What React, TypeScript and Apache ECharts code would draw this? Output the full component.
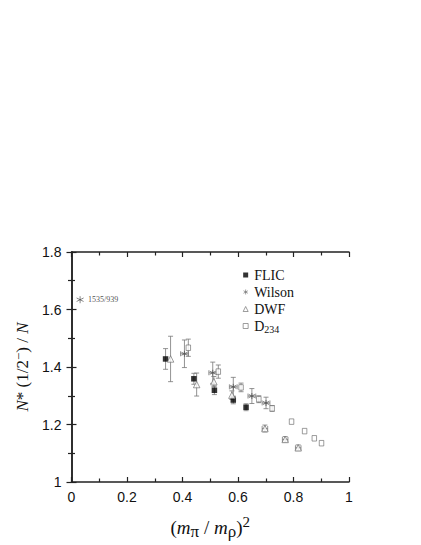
import React, { useEffect, useRef } from "react";
import * as echarts from "echarts";

const flicX = [0.339, 0.441, 0.515, 0.583, 0.629];
const flicY = [1.428, 1.359, 1.319, 1.285, 1.26];
const flicErr = [0.036, 0.019, 0.015, 0.013, 0.012];

const wilsonX = [0.407, 0.509, 0.583, 0.65, 0.701];
const wilsonY = [1.446, 1.38, 1.331, 1.299, 1.275];
const wilsonErr = [0.048, 0.037, 0.033, 0.026, 0.02];
const wilsonXErr = [0.014, 0.014, 0.014, 0.014, 0.014];

const dwfX = [0.357, 0.451, 0.513, 0.578, 0.697, 0.77, 0.817];
const dwfY = [1.428, 1.339, 1.349, 1.302, 1.186, 1.148, 1.119];
const dwfErr = [0.079, 0.04, 0.018, 0.015, 0.012, 0.01, 0.01];
const dwfXErr = [0, 0, 0, 0, 0.01, 0.01, 0.01];

const d234X = [0.421, 0.529, 0.611, 0.675, 0.723, 0.793, 0.84, 0.875, 0.901];
const d234Y = [1.467, 1.384, 1.329, 1.288, 1.256, 1.21, 1.177, 1.152, 1.135];
const d234Err = [0.03, 0.023, 0.015, 0.012, 0.01, 0, 0, 0, 0];

const annotation = [[0.031, 1.634]];
const annotationLabel = "1535/939";

const xTicks = { min: 0, max: 1, interval: 0.2 };
const yTicks = { min: 1, max: 1.8, interval: 0.2 };

const ASTERISK =
  "path://M0,-10L0,10M-8.66,-5L8.66,5M-8.66,5L8.66,-5";

function pts(xs: number[], ys: number[]) {
  return xs.map((x, i) => [x, ys[i]]);
}
function errs(xs: number[], ys: number[], ey: number[], ex?: number[]) {
  return xs.map((x, i) => [x, ys[i], ey[i], ex ? ex[i] : 0]);
}

const errRender = (color: string) => (params: any, api: any) => {
  const x = api.value(0);
  const y = api.value(1);
  const ey = api.value(2);
  const ex = api.value(3);
  const style = { stroke: color, lineWidth: 0.8 };
  const children: any[] = [];
  const cap = 2.5;
  if (ey > 0) {
    const t = api.coord([x, y + ey]);
    const b = api.coord([x, y - ey]);
    children.push({ type: "line", shape: { x1: t[0], y1: t[1], x2: b[0], y2: b[1] }, style });
    children.push({ type: "line", shape: { x1: t[0] - cap, y1: t[1], x2: t[0] + cap, y2: t[1] }, style });
    children.push({ type: "line", shape: { x1: b[0] - cap, y1: b[1], x2: b[0] + cap, y2: b[1] }, style });
  }
  if (ex > 0) {
    const l = api.coord([x - ex, y]);
    const r = api.coord([x + ex, y]);
    children.push({ type: "line", shape: { x1: l[0], y1: l[1], x2: r[0], y2: r[1] }, style });
    children.push({ type: "line", shape: { x1: l[0], y1: l[1] - cap, x2: l[0], y2: l[1] + cap }, style });
    children.push({ type: "line", shape: { x1: r[0], y1: r[1] - cap, x2: r[0], y2: r[1] + cap }, style });
  }
  return { type: "group", children };
};

export default function App() {
  const ref = useRef<HTMLDivElement>(null);
  useEffect(() => {
    if (!ref.current) return;
    const chart = echarts.init(ref.current, null, { renderer: "svg" });
    const axisLine = { show: true, lineStyle: { color: "#222", width: 1.5 } };
    const tickCommon = { show: true, inside: true, length: 5, lineStyle: { color: "#222", width: 1.2 } };
    const minorCommon = { show: true, splitNumber: 2, length: 3.5, lineStyle: { color: "#222", width: 1.2 } };
    const labelFont = { fontFamily: "Liberation Sans", fontSize: 14, color: "#111" };
    const errColor = "#777";
    chart.setOption({
      animation: false,
      backgroundColor: "#fff",
      grid: { left: 71.5, right: 72, top: 252, bottom: 63 },
      xAxis: [
        {
          type: "value",
          ...xTicks,
          position: "bottom",
          axisLine,
          axisTick: tickCommon,
          minorTick: minorCommon,
          splitLine: { show: false },
          axisLabel: { ...labelFont, margin: 8 },
          name: "({i|m}{sub|π} / {i|m}{sub|ρ}){sup|2}",
          nameLocation: "middle",
          nameGap: 32,
          nameTextStyle: {
            fontFamily: "Liberation Serif",
            fontSize: 19,
            color: "#111",
            rich: {
              i: { fontFamily: "Liberation Serif", fontStyle: "italic", fontSize: 19, color: "#111" },
              sub: { fontFamily: "Liberation Serif", fontSize: 17, color: "#111", verticalAlign: "bottom", padding: [9, 0, 0, 0] },
              sup: { fontFamily: "Liberation Serif", fontSize: 15, color: "#111", verticalAlign: "top", padding: [0, 0, 11, 0] },
            },
          },
        },
        {
          type: "value",
          ...xTicks,
          position: "top",
          axisLine,
          axisTick: tickCommon,
          minorTick: minorCommon,
          splitLine: { show: false },
          axisLabel: { show: false },
        },
      ],
      yAxis: [
        {
          type: "value",
          ...yTicks,
          position: "left",
          axisLine,
          axisTick: tickCommon,
          minorTick: minorCommon,
          splitLine: { show: false },
          axisLabel: { ...labelFont, margin: 10 },
          name: "{i|N}* (1/2{sup|−}) / {i|N}",
          nameLocation: "middle",
          nameGap: 31,
          nameTextStyle: {
            fontFamily: "Liberation Serif",
            fontSize: 17,
            color: "#111",
            rich: {
              i: { fontFamily: "Liberation Serif", fontStyle: "italic", fontSize: 17, color: "#111" },
              sup: { fontFamily: "Liberation Serif", fontSize: 13, color: "#111", verticalAlign: "top", padding: [0, 0, 8, 0] },
            },
          },
        },
        {
          type: "value",
          ...yTicks,
          position: "right",
          axisLine,
          axisTick: tickCommon,
          minorTick: minorCommon,
          splitLine: { show: false },
          axisLabel: { show: false },
        },
      ],
      legend: {
        left: 236,
        top: 263,
        orient: "vertical",
        itemGap: 3,
        itemWidth: 5,
        itemHeight: 5,
        data: [
          { name: "FLIC", icon: "rect", itemStyle: { color: "#000" } },
          { name: "Wilson", icon: ASTERISK, itemStyle: { color: "none", borderColor: "#666", borderWidth: 0.8 } },
          { name: "DWF", icon: "triangle", itemStyle: { color: "#fff", borderColor: "#666", borderWidth: 0.8 } },
          { name: "D234", icon: "rect", itemStyle: { color: "#fff", borderColor: "#666", borderWidth: 0.8 } },
        ],
        formatter: (n: string) => (n === "D234" ? "D{sub|234}" : n),
        textStyle: {
          fontFamily: "Liberation Serif",
          fontSize: 14,
          color: "#111",
          padding: [0, 0, 0, 1],
          rich: {
            sub: { fontFamily: "Liberation Serif", fontSize: 10, color: "#111", verticalAlign: "bottom", padding: [6, 0, 0, 0] },
          },
        },
      },
      series: [
        {
          type: "custom",
          name: "errFLIC",
          renderItem: errRender(errColor),
          data: errs(flicX, flicY, flicErr),
          z: 1,
          silent: true,
        },
        {
          type: "custom",
          name: "errWilson",
          renderItem: errRender(errColor),
          data: errs(wilsonX, wilsonY, wilsonErr, wilsonXErr),
          z: 1,
          silent: true,
        },
        {
          type: "custom",
          name: "errDWF",
          renderItem: errRender(errColor),
          data: errs(dwfX, dwfY, dwfErr, dwfXErr),
          z: 1,
          silent: true,
        },
        {
          type: "custom",
          name: "errD234",
          renderItem: errRender(errColor),
          data: errs(d234X, d234Y, d234Err),
          z: 1,
          silent: true,
        },
        {
          type: "scatter",
          name: "FLIC",
          symbol: "rect",
          symbolSize: 5.5,
          itemStyle: { color: "#000" },
          data: pts(flicX, flicY),
          z: 3,
        },
        {
          type: "scatter",
          name: "Wilson",
          symbol: ASTERISK,
          symbolSize: 6,
          itemStyle: { color: "none", borderColor: "#555", borderWidth: 1 },
          data: pts(wilsonX, wilsonY),
          z: 3,
        },
        {
          type: "scatter",
          name: "DWF",
          symbol: "triangle",
          symbolSize: 6.5,
          itemStyle: { color: "#fff", borderColor: "#666", borderWidth: 0.8 },
          data: pts(dwfX, dwfY),
          z: 3,
        },
        {
          type: "scatter",
          name: "D234",
          symbol: "rect",
          symbolSize: [4.5, 5.5],
          itemStyle: { color: "#fff", borderColor: "#666", borderWidth: 0.8 },
          data: pts(d234X, d234Y),
          z: 3,
        },
        {
          type: "scatter",
          name: "annotation",
          symbol: ASTERISK,
          symbolSize: 7,
          itemStyle: { color: "none", borderColor: "#444", borderWidth: 0.8 },
          label: {
            show: true,
            position: "right",
            distance: 2,
            formatter: annotationLabel,
            fontFamily: "Liberation Serif",
            fontSize: 8,
            color: "#222",
          },
          data: annotation,
          z: 3,
        },
      ],
    });
    return () => chart.dispose();
  }, []);
  return (
    <div
      ref={ref}
      style={{ position: "fixed", left: 0, top: 0, width: 421, height: 545, background: "#fff" }}
    />
  );
}
